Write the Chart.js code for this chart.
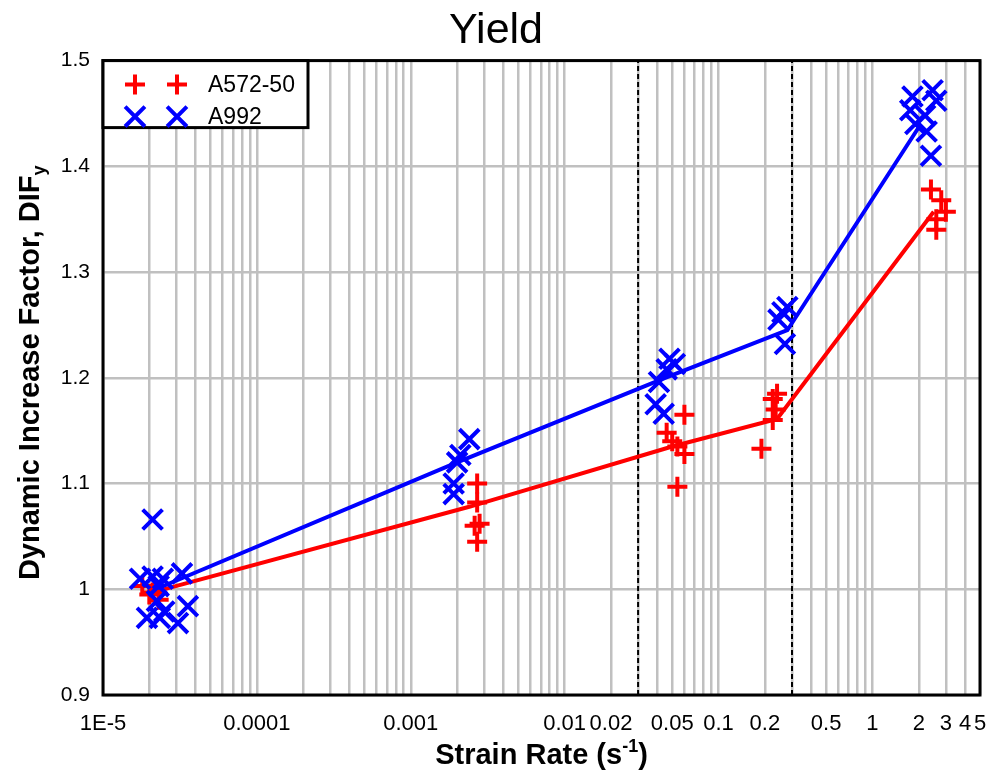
<!DOCTYPE html>
<html>
<head>
<meta charset="utf-8">
<script src="https://cdn.jsdelivr.net/npm/chart.js@4"></script>
<style>
  html, body { margin: 0; padding: 0; background: #fff; overflow: hidden; }
  canvas { display: block; }
</style>
</head>
<body>
<canvas id="myChart" width="992" height="770"></canvas>
<script>
// Yield DIF vs strain rate, A572-50 and A992
const FONT = "'Liberation Sans', Arial, sans-serif";

const xTickValues = [1e-5, 0.0001, 0.001, 0.01, 0.02, 0.05, 0.1, 0.2, 0.5, 1, 2, 3, 4, 5];
const xTickLabels = ['1E-5', '0.0001', '0.001', '0.01', '0.02', '0.05', '0.1', '0.2', '0.5', '1', '2', '3', '4', '5'];
const yTickValues = [0.9, 1, 1.1, 1.2, 1.3, 1.4, 1.5];
const yTickLabels = ['0.9', '1', '1.1', '1.2', '1.3', '1.4', '1.5'];

// test points
const a572Rate = [1.8e-5, 2.1e-5, 2.3e-5, 2.0e-5,
  0.0027, 0.0027, 0.0026, 0.0028, 0.0027,
  0.060, 0.046, 0.050, 0.054, 0.060, 0.054,
  0.24, 0.225, 0.225, 0.19, 0.235,
  2.4, 2.8, 3.0, 2.6, 2.6];
const a572Dif = [1.003, 0.997, 0.990, 0.995,
  1.100, 1.082, 1.060, 1.062, 1.045,
  1.165, 1.148, 1.140, 1.135, 1.128, 1.097,
  1.185, 1.180, 1.160, 1.133, 1.170,
  1.378, 1.368, 1.357, 1.350, 1.340];

const a992Rate = [2.1e-5, 1.74e-5, 2.1e-5, 2.45e-5, 3.26e-5, 2.3e-5, 2.24e-5, 1.93e-5, 2.34e-5, 3.07e-5, 3.56e-5, 2.5e-5,
  0.0024, 0.0021, 0.0020, 0.0019, 0.0019,
  0.048, 0.052, 0.046, 0.041, 0.039, 0.044,
  0.26, 0.28, 0.245, 0.27,
  1.82, 2.46, 2.6, 1.76, 2.2, 1.9, 2.25, 2.4];
const a992Dif = [1.066, 1.010, 1.012, 1.010, 1.015, 1.003, 0.989, 0.973, 0.973, 0.968, 0.984, 0.979,
  1.142, 1.127, 1.120, 1.100, 1.090,
  1.218, 1.213, 1.208, 1.196, 1.175, 1.166,
  1.262, 1.267, 1.255, 1.232,
  1.466, 1.472, 1.462, 1.453, 1.448, 1.440, 1.433, 1.410];

// mean curves
const a572FitRate = [2.1e-5, 0.0024, 0.05, 0.24, 2.5];
const a572FitDif  = [0.997, 1.078, 1.135, 1.161, 1.357];
const a992FitRate = [2.2e-5, 0.002, 0.045, 0.28, 2.0];
const a992FitDif  = [1.000, 1.120, 1.200, 1.245, 1.437];

// regime boundaries
const dividerRates = [0.03, 0.3];
const yMin = 0.9, yMax = 1.5;

const pts = (xs, ys) => xs.map((x, i) => ({ x: x, y: ys[i] }));

// grid lines at 1..9 per decade
const gridValues = [];
for (let k = -5; k <= 0; k++) {
  for (let m = 1; m <= 9; m++) {
    const v = m * Math.pow(10, k);
    if (v <= 5.0000001) gridValues.push(v);
  }
}

const RED = '#ff0000';
const BLUE = '#0000ff';

const frame = {
  id: 'frame',
  beforeDatasetsDraw(chart) {
    const a = chart.chartArea, ctx = chart.ctx;
    ctx.save();
    ctx.strokeStyle = '#000';
    ctx.lineWidth = 3;
    ctx.strokeRect(a.left, a.top, a.right - a.left, a.bottom - a.top);
    ctx.restore();
  }
};

const axisTitles = {
  id: 'axisTitles',
  afterDraw(chart) {
    const a = chart.chartArea, ctx = chart.ctx;
    ctx.save();
    ctx.fillStyle = '#000';
    ctx.textBaseline = 'alphabetic';
    // x title with superscript
    const big = 'bold 29px ' + FONT, small = 'bold 18px ' + FONT;
    ctx.font = big;
    const p1 = 'Strain Rate (s', p3 = ')';
    const w1 = ctx.measureText(p1).width, w3 = ctx.measureText(p3).width;
    ctx.font = small;
    const p2 = '-1';
    const w2 = ctx.measureText(p2).width;
    let x = (a.left + a.right) / 2 - (w1 + w2 + w3) / 2;
    const by = 764;
    ctx.font = big; ctx.fillText(p1, x, by); x += w1;
    ctx.font = small; ctx.fillText(p2, x, by - 12); x += w2;
    ctx.font = big; ctx.fillText(p3, x, by);

    // y title with subscript
    ctx.font = big;
    const q1 = 'Dynamic Increase Factor, DIF';
    const v1 = ctx.measureText(q1).width;
    ctx.font = small;
    const v2 = ctx.measureText('y').width;
    ctx.translate(39, (a.top + a.bottom) / 2 - 5);
    ctx.rotate(-Math.PI / 2);
    let s = -(v1 + v2) / 2;
    ctx.font = big; ctx.fillText(q1, s, 0); s += v1;
    ctx.font = small; ctx.fillText('y', s, 6);
    ctx.restore();
  }
};

const legendBox = {
  id: 'legendBox',
  afterDraw(chart) {
    const a = chart.chartArea, ctx = chart.ctx;
    const left = a.left, top = a.top, w = 205, h = 67;
    ctx.save();
    ctx.fillStyle = '#fff';
    ctx.fillRect(left, top, w, h);
    ctx.strokeStyle = '#000';
    ctx.lineWidth = 3;
    ctx.strokeRect(left, top, w, h);
    const rows = [
      { label: 'A572-50', color: RED, style: 'cross', y: top + 24 },
      { label: 'A992', color: BLUE, style: 'crossRot', y: top + 56 }
    ];
    rows.forEach(r => {
      ctx.strokeStyle = r.color;
      ctx.lineWidth = 4;
      [left + 32, left + 74].forEach(cx => {
        Chart.helpers.drawPoint(ctx, { pointStyle: r.style, radius: r.style === 'cross' ? 10 : 14, borderWidth: 4 }, cx, r.y);
      });
      ctx.fillStyle = '#000';
      ctx.font = '23px ' + FONT;
      ctx.textBaseline = 'middle';
      ctx.fillText(r.label, left + 105, r.y + 1);
    });
    ctx.restore();
  }
};

const ctx = document.getElementById('myChart');

new Chart(ctx, {
  data: {
    datasets: [
      {
        type: 'scatter', label: 'A992', data: pts(a992Rate, a992Dif),
        pointStyle: 'crossRot', pointRadius: 14, pointBorderWidth: 4,
        borderColor: BLUE, backgroundColor: BLUE, order: 1
      },
      {
        type: 'scatter', label: 'A572-50', data: pts(a572Rate, a572Dif),
        pointStyle: 'cross', pointRadius: 10, pointBorderWidth: 4,
        borderColor: RED, backgroundColor: RED, order: 2
      },
      {
        type: 'line', label: 'A992 mean', data: pts(a992FitRate, a992FitDif),
        borderColor: BLUE, borderWidth: 4, pointRadius: 0, tension: 0, order: 3
      },
      {
        type: 'line', label: 'A572-50 mean', data: pts(a572FitRate, a572FitDif),
        borderColor: RED, borderWidth: 4, pointRadius: 0, tension: 0, order: 4
      },
      ...dividerRates.map(r => ({
        type: 'line', label: 'limit', data: [{ x: r, y: yMin }, { x: r, y: yMax }],
        borderColor: '#000', borderWidth: 2, borderDash: [5, 3], pointRadius: 0, order: 10
      }))
    ]
  },
  options: {
    responsive: false,
    animation: false,
    layout: { autoPadding: false, padding: { left: 12, right: 12, top: 0, bottom: 0 } },
    plugins: {
      legend: { display: false },
      tooltip: { enabled: false },
      title: {
        display: true, text: 'Yield', color: '#000',
        font: { family: FONT, size: 43, weight: 'normal' },
        padding: { top: 5, bottom: 4 }
      }
    },
    scales: {
      x: {
        type: 'logarithmic', min: 1e-5, max: 5,
        afterBuildTicks: (s) => { s.ticks = gridValues.map(v => ({ value: v })); },
        afterFit: (s) => { s.height = 75; s.paddingLeft = 0; s.paddingRight = 0; },
        grid: { color: '#c0c0c0', lineWidth: 2.5, drawTicks: false },
        border: { display: false },
        ticks: {
          autoSkip: false, maxRotation: 0, minRotation: 0, padding: 16, color: '#000',
          font: { family: FONT, size: 22 },
          callback: (v) => {
            const i = xTickValues.findIndex(t => Math.abs(t - v) / t < 1e-6);
            return i >= 0 ? xTickLabels[i] : '';
          }
        }
      },
      y: {
        type: 'linear', min: yMin, max: yMax,
        afterBuildTicks: (s) => { s.ticks = yTickValues.map(v => ({ value: v })); },
        afterFit: (s) => { s.width = 91; },
        grid: { color: '#c0c0c0', lineWidth: 2.5, drawTicks: false },
        border: { display: false },
        ticks: {
          padding: 13, color: '#000',
          font: { family: FONT, size: 21 },
          callback: (v) => {
            const i = yTickValues.findIndex(t => Math.abs(t - v) < 1e-6);
            return i >= 0 ? yTickLabels[i] : '';
          }
        }
      }
    }
  },
  plugins: [frame, axisTitles, legendBox]
});
</script>
</body>
</html>
